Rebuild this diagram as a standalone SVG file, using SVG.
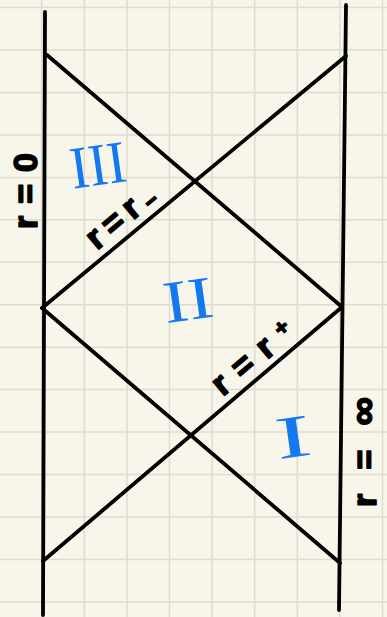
<svg xmlns="http://www.w3.org/2000/svg" width="387" height="617" viewBox="0 0 387 617">
<defs>
<style>
.grid line{stroke:#dddccd;stroke-width:1.5}
.ln{stroke:#000;stroke-width:3.8;stroke-linecap:round;fill:none}
.lbl{font-family:"Liberation Sans",Arial,sans-serif;font-weight:bold;fill:#000;stroke:#000;stroke-width:1.6;stroke-linejoin:round;font-size:34px}
.num{font-family:"Liberation Serif","Times New Roman",serif;fill:#1479f0;font-size:60px}
</style>
</defs>
<rect width="387" height="617" fill="#f8f6ea"/>
<g id="grid" class="grid">
<line x1="41.7" y1="0" x2="41.7" y2="617"/>
<line x1="84.3" y1="0" x2="84.3" y2="617"/>
<line x1="126.9" y1="0" x2="126.9" y2="617"/>
<line x1="169.5" y1="0" x2="169.5" y2="617"/>
<line x1="212.1" y1="0" x2="212.1" y2="617"/>
<line x1="254.7" y1="0" x2="254.7" y2="617"/>
<line x1="297.3" y1="0" x2="297.3" y2="617"/>
<line x1="339.9" y1="0" x2="339.9" y2="617"/>
<line x1="382.5" y1="0" x2="382.5" y2="617"/>
<line x1="0" y1="7.5" x2="387" y2="7.5"/>
<line x1="0" y1="50" x2="387" y2="50"/>
<line x1="0" y1="92.5" x2="387" y2="92.5"/>
<line x1="0" y1="134.9" x2="387" y2="134.9"/>
<line x1="0" y1="177.4" x2="387" y2="177.4"/>
<line x1="0" y1="219.8" x2="387" y2="219.8"/>
<line x1="0" y1="262.3" x2="387" y2="262.3"/>
<line x1="0" y1="304.7" x2="387" y2="304.7"/>
<line x1="0" y1="347.2" x2="387" y2="347.2"/>
<line x1="0" y1="389.6" x2="387" y2="389.6"/>
<line x1="0" y1="432.1" x2="387" y2="432.1"/>
<line x1="0" y1="474.5" x2="387" y2="474.5"/>
<line x1="0" y1="517" x2="387" y2="517"/>
<line x1="0" y1="559.4" x2="387" y2="559.4"/>
<line x1="0" y1="601.9" x2="387" y2="601.9"/>
</g>
<g id="connectors">
<path class="ln" d="M45 12 L43 615"/>
<path class="ln" d="M346 5 L339 610"/>
<path class="ln" d="M47 55 L342 307"/>
<path class="ln" d="M346 56 L42 308"/>
<path class="ln" d="M42 308 L340 563"/>
<path class="ln" d="M342 307 L43 561"/>
</g>
<g id="labels">
<text class="lbl" transform="translate(37,191) rotate(-90)" text-anchor="middle" textLength="76">r=0</text>
<text class="lbl" transform="translate(376,452) rotate(-90)" text-anchor="middle" textLength="110">r=<tspan font-size="40">∞</tspan></text>
<text class="lbl" transform="translate(125,222) rotate(-40)" y="4" text-anchor="middle" font-size="30" textLength="80">r=r<tspan font-size="22" dy="4">−</tspan></text>
<text class="lbl" transform="translate(257,363) rotate(-40)" y="4" text-anchor="middle" font-size="30" textLength="96">r=r<tspan font-size="22" dy="-8">+</tspan></text>
</g>
<g id="regions">
<text id="region-III" class="num" transform="translate(98,165) rotate(-8)" y="20" text-anchor="middle" textLength="56" lengthAdjust="spacingAndGlyphs">III</text>
<text id="region-II" class="num" transform="translate(188,300) rotate(-8)" y="20" text-anchor="middle" textLength="50" lengthAdjust="spacingAndGlyphs">II</text>
<text id="region-I" class="num" transform="translate(293,437) rotate(-8)" y="20" text-anchor="middle" textLength="36" lengthAdjust="spacingAndGlyphs">I</text>
</g>
</svg>
